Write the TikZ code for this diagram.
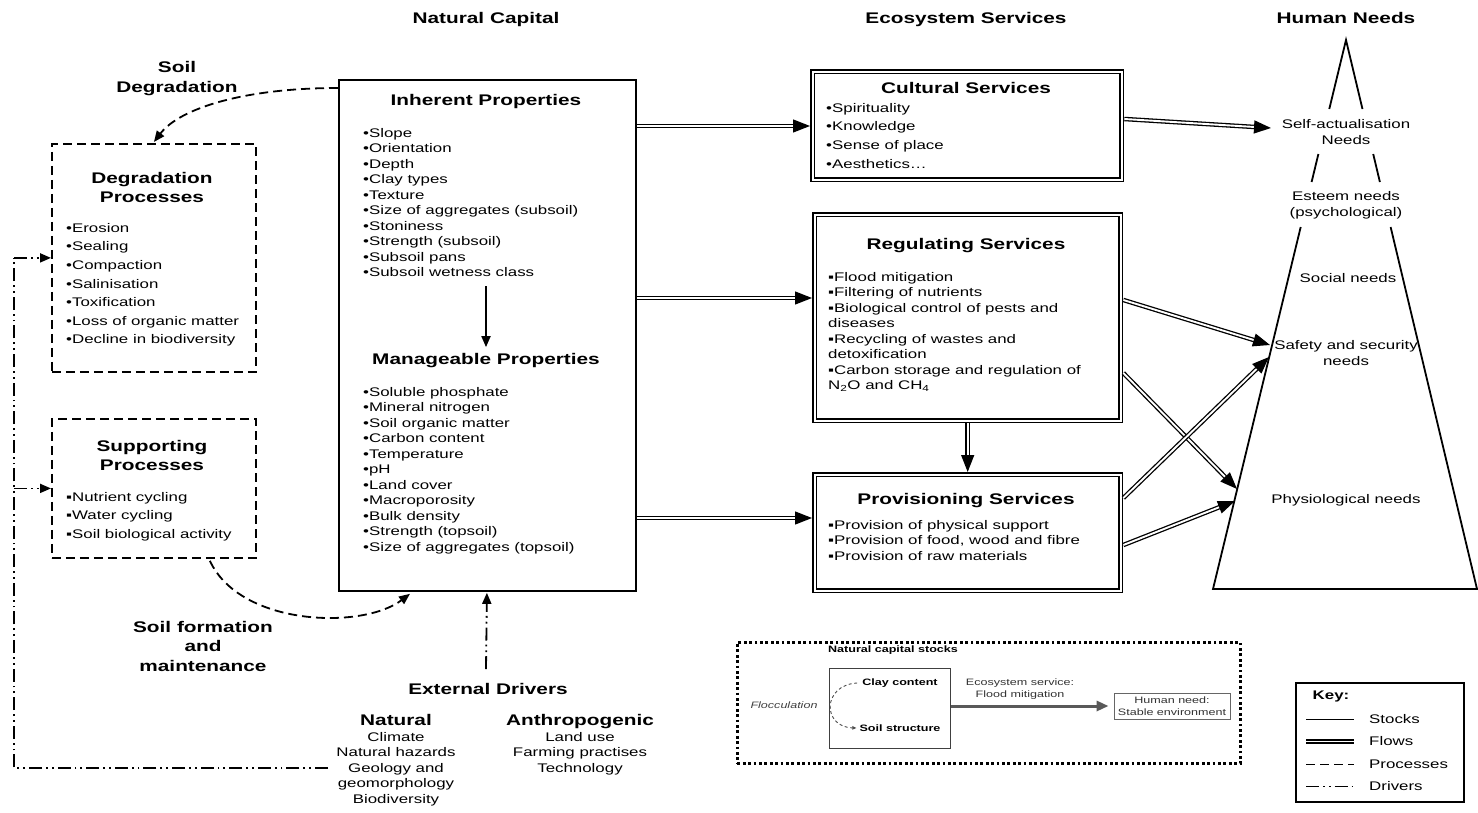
\documentclass[tikz,border=0pt]{standalone}
\usepackage{fontspec}
\setmainfont[FakeStretch=1.35]{Liberation Sans}
\usetikzlibrary{arrows.meta,calc}
\newcommand\fTtl{\fontsize{15.4}{19.5}\selectfont\bfseries}
\newcommand\fBody{\fontsize{12.5}{15.5}\selectfont}
\newcommand\fBodyW{\fontsize{12.5}{18.6}\selectfont}
\newcommand\fPyr{\fontsize{12.5}{16}\selectfont}
\newcommand\fSm{\fontsize{9.3}{12}\selectfont}
\begin{document}
\begin{tikzpicture}[x=1pt,y=-1pt,
  hdr/.style={font=\fTtl,inner sep=0,anchor=base},
  ttl/.style={font=\fTtl,inner sep=0,align=center},
  items/.style={font=\fBody,inner sep=0,align=left,anchor=north west},
  itemsw/.style={font=\fBodyW,inner sep=0,align=left,anchor=north west},
  stock/.style={draw,line width=1.8pt,inner sep=0,anchor=north west},
  svc/.style={draw,double,double distance=1.9pt,line width=1.35pt,inner sep=0,anchor=north west},
  proc/.style={draw,line width=1.8pt,dash pattern=on 9pt off 5pt,inner sep=0,anchor=north west},
  flowline/.style={double,double distance=1.9pt,line width=1.3pt},
  flow/.style={flowline,-{Triangle[length=17pt,width=13pt]}},
  procline/.style={line width=1.8pt,dash pattern=on 9pt off 5pt},
  drvline/.style={line width=1.8pt,dash pattern=on 13pt off 4pt on 1.8pt off 4pt on 1.8pt off 4pt},
  pyr/.style={font=\fPyr,inner sep=0,align=center},
  smalltip/.style={-{Triangle[length=11pt,width=9pt]}}
]
\useasboundingbox (0,0) rectangle (1478,813);

% headers
\node[hdr] (hNC) at (486,23.5) {Natural Capital};
\node[hdr] (hES) at (966,23.5) {Ecosystem Services};
\node[hdr] (hHN) at (1346,23.5) {Human Needs};

% natural capital box
\node[stock,minimum width=297pt,minimum height=511pt] (nc) at (338,79) {};
\node[hdr] (tInh) at (486,105.5) {Inherent Properties};
\node[items] (inh) at (363,128) {•Slope\\•Orientation\\•Depth\\•Clay types\\•Texture\\•Size of aggregates (subsoil)\\•Stoniness\\•Strength (subsoil)\\•Subsoil pans\\•Subsoil wetness class};
\node[hdr] (tMan) at (486,364.5) {Manageable Properties};
\node[items] (man) at (363,387) {•Soluble phosphate\\•Mineral nitrogen\\•Soil organic matter\\•Carbon content\\•Temperature\\•pH\\•Land cover\\•Macroporosity\\•Bulk density\\•Strength (topsoil)\\•Size of aggregates (topsoil)};
\draw[line width=1.8pt,smalltip,shorten <=9pt,shorten >=6pt] (inh.south -| tInh.south) -- (tMan.north);

% service boxes
\node[svc,minimum width=309pt,minimum height=108pt] (cs) at (812,71) {};
\node[hdr] (tCs) at (966,93.5) {Cultural Services};
\node[itemsw] (csi) at (826,103) {•Spirituality\\•Knowledge\\•Sense of place\\•Aesthetics…};

\node[svc,minimum width=306pt,minimum height=206pt] (reg) at (814,214) {};
\node[hdr] (tReg) at (966,249.5) {Regulating Services};
\node[items] (regi) at (828,272) {▪Flood mitigation\\▪Filtering of nutrients\\▪Biological control of pests and\\diseases\\▪Recycling of wastes and\\detoxification\\▪Carbon storage and regulation of\\N\textsubscript{2}O and CH\textsubscript{4}};

\node[svc,minimum width=306pt,minimum height=116pt] (prov) at (814,474) {};
\node[hdr] (tProv) at (966,504.5) {Provisioning Services};
\node[items] (provi) at (828,520) {▪Provision of physical support\\▪Provision of food, wood and fibre\\▪Provision of raw materials};

% process boxes
\node[proc,minimum width=204pt,minimum height=228pt] (deg) at (51,143) {};
\node[ttl] (tDeg) at (152,187.5) {Degradation\\Processes};
\node[itemsw] (degi) at (66,223) {•Erosion\\•Sealing\\•Compaction\\•Salinisation\\•Toxification\\•Loss of organic matter\\•Decline in biodiversity};

\node[proc,minimum width=204pt,minimum height=139pt] (sup) at (51,418) {};
\node[ttl] (tSup) at (152,455.5) {Supporting\\Processes};
\node[itemsw] (supi) at (66,492) {▪Nutrient cycling\\▪Water cycling\\▪Soil biological activity};

\node[ttl] (lSD) at (177,78.5) {Soil\\Degradation};
\node[ttl] (lSF) at (203,646) {Soil formation\\and\\maintenance};

% flows from natural capital
\coordinate (f1) at ($(nc.north east)+(0,47)$);
\coordinate (f2) at ($(nc.north east)+(0,219)$);
\coordinate (f3) at ($(nc.north east)+(0,439)$);
\draw[flow] (f1) -- ($(f1 -| cs.west)+(-2,0)$);
\draw[flow] (f2) -- ($(f2 -| reg.west)+(-2,0)$);
\draw[flow] (f3) -- ($(f3 -| prov.west)+(-2,0)$);
\draw[flow] ($(reg.south)+(0,2)$) -- ($(prov.north)+(0,-2)$);

% pyramid
\coordinate (apx) at (1346,40);
\coordinate (bl) at (1213,589);
\coordinate (br) at (1477,589);
\draw[line width=1.8pt] ($(apx)!0.1257!(bl)$) -- (apx) -- ($(apx)!0.1257!(br)$);
\draw[line width=1.8pt] ($(apx)!0.2077!(bl)$) -- ($(apx)!0.2587!(bl)$);
\draw[line width=1.8pt] ($(apx)!0.2077!(br)$) -- ($(apx)!0.2587!(br)$);
\draw[line width=1.8pt] ($(apx)!0.3406!(bl)$) -- (bl) -- (br) -- ($(apx)!0.3406!(br)$);

\node[pyr] (nSA) at (1346,132) {Self-actualisation\\Needs};
\node[pyr] (nEs) at (1346,205) {Esteem needs\\(psychological)};
\node[pyr] (nSo) at (1348,278.5) {Social needs};
\node[pyr] (nSaf) at (1346,353.5) {Safety and security\\needs};
\node[pyr] (nPh) at (1346,500.5) {Physiological needs};

\coordinate (eSA) at (1271,128);
\coordinate (eSaf1) at (1270,345);
\coordinate (eSaf2) at (1269,357);
\coordinate (ePh1) at (1237,489);
\coordinate (ePh2) at (1235,501);

\draw[flow] ($(cs.north east)+(2,48)$) -- (eSA);
\draw[flow] ($(reg.north east)+(2,86)$) -- (eSaf1);
\draw[flow] ($(reg.north east)+(2,159)$) -- (ePh1);
\draw[flow] ($(prov.north east)+(2,24)$) -- (eSaf2);
\draw[flow] ($(prov.north east)+(2,71)$) -- (ePh2);

% processes
\draw[procline,smalltip] ($(nc.north west)+(0,9)$) .. controls (245,88) and (180,108) .. ($(deg.north)+(0,-1)$);
\draw[procline,smalltip] ($(sup.south)+(56,2)$) .. controls (240,626) and (362,630) .. ($(nc.south west)+(72,2)$);

% drivers
\node[hdr] (tExt) at (488,694.5) {External Drivers};
\node[hdr] (tNat) at (396,725.5) {Natural};
\node[font=\fBody,inner sep=0,align=center,anchor=north] (nati) at (396,732) {Climate\\Natural hazards\\Geology and\\geomorphology\\Biodiversity};
\node[hdr] (tAnt) at (580,725.5) {Anthropogenic};
\node[font=\fBody,inner sep=0,align=center,anchor=north] (anti) at (580,732) {Land use\\Farming practises\\Technology};

\draw[drvline,smalltip] ($(tExt.north)+(-2,-14)$) -- ($(nc.south)+(-0.5,1)$);
\coordinate (dStart) at (328,768);
\coordinate (dCorner) at (14,768);
\draw[drvline] (dStart) -- (dCorner) -- (dCorner |- deg.west);
\draw[drvline,smalltip] (dCorner |- deg.west) -- (deg.west);
\draw[drvline,smalltip] (dCorner |- sup.west) -- (sup.west);

% inset example
\node[draw,line width=2.8pt,dash pattern=on 2.8pt off 2.6pt,minimum width=503pt,minimum height=121pt,inner sep=0,anchor=north west] (inset) at (736,641) {};
\node[font=\fSm\bfseries,inner sep=0] (nStk) at (893,650.5) {Natural capital stocks};
\node[draw=black!75,line width=1pt,minimum width=121pt,minimum height=80pt,inner sep=0,anchor=north west] (sbox) at (829,668) {};
\node[font=\fSm\bfseries,inner sep=0] (cc) at (900,683) {Clay content};
\node[font=\fSm\bfseries,inner sep=0] (ss) at (900,728) {Soil structure};
\node[font=\fSm\itshape,text=black!75,inner sep=0] (floc) at (784,705) {Flocculation};
\draw[black!70,line width=0.9pt,dash pattern=on 3pt off 2.5pt,-{Triangle[length=4pt,width=3.5pt]}] ($(cc.west)+(-5,0)$) .. controls (822,685) and (822,727) .. ($(ss.west)+(-3,0)$);
\node[font=\fSm,align=center,text=black!80,inner sep=0] (esfm) at (1020,689.5) {Ecosystem service:\\Flood mitigation};
\node[draw=black!60,line width=0.9pt,font=\fSm,align=center,text=black!80,minimum width=116pt,minimum height=26pt,inner sep=0] (hn) at (1172,706) {Human need:\\Stable environment};
\draw[black!65,line width=3pt,-{Triangle[length=12pt,width=10pt]},shorten >=5pt] (sbox.east |- hn.west) -- (hn.west);

% key
\node[draw,line width=1.8pt,minimum width=168pt,minimum height=119pt,inner sep=0,anchor=north west] (key) at (1295,682) {};
\node[font=\fBody\bfseries,inner sep=0] (kT) at (1331,696) {Key:};
\node[font=\fBody,inner sep=0,anchor=west] (kS) at (1369,719.5) {Stocks};
\node[font=\fBody,inner sep=0,anchor=west] (kF) at (1369,741.5) {Flows};
\node[font=\fBody,inner sep=0,anchor=west] (kP) at (1369,764.5) {Processes};
\node[font=\fBody,inner sep=0,anchor=west] (kD) at (1369,786.5) {Drivers};
\draw[line width=1.8pt] ([xshift=-63pt]kS.west) -- ([xshift=-15pt]kS.west);
\draw[flowline] ([xshift=-63pt]kF.west) -- ([xshift=-15pt]kF.west);
\draw[procline] ([xshift=-63pt]kP.west) -- ([xshift=-15pt]kP.west);
\draw[drvline] ([xshift=-63pt]kD.west) -- ([xshift=-15pt]kD.west);
\end{tikzpicture}
\end{document}
